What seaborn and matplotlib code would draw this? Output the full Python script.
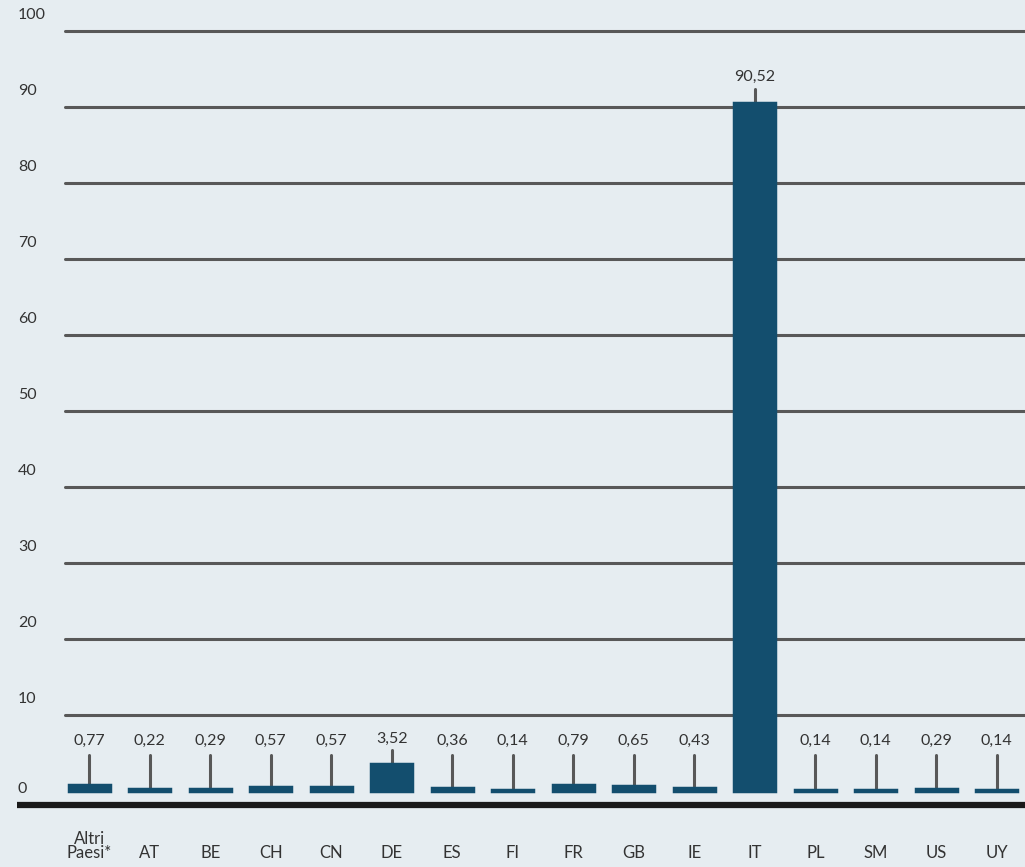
import matplotlib
matplotlib.use("Agg")
import matplotlib.pyplot as plt
import matplotlib.transforms as mtransforms
import seaborn as sns

# data
countries = ["Altri\nPaesi*", "AT", "BE", "CH", "CN", "DE", "ES", "FI", "FR",
             "GB", "IE", "IT", "PL", "SM", "US", "UY"]
shares = [0.77, 0.22, 0.29, 0.57, 0.57, 3.52, 0.36, 0.14, 0.79,
          0.65, 0.43, 90.52, 0.14, 0.14, 0.29, 0.14]
y_ticks = [10, 20, 30, 40, 50, 60, 70, 80, 90, 100]

BG = "#e6edf1"
BAR = "#134e6e"
GRID = "#585858"
TEXT = "#333333"

sns.set_style("white")
plt.rcParams["font.family"] = ["Lato", "DejaVu Sans"]

fig = plt.figure(figsize=(10.25, 8.67), dpi=100, facecolor=BG)
ax = fig.add_axes([59 / 1025, 62 / 867, 968 / 1025, 805 / 867])
ax.set_facecolor(BG)

# gridlines behind the bars
for t in y_ticks:
    ax.axhline(t, xmin=0.006, xmax=1, color=GRID, lw=2.2, zorder=0)

sns.barplot(x=list(range(len(countries))), y=shares, color=BAR, saturation=1,
            width=0.68, linewidth=2.5, edgecolor=BAR, ax=ax, zorder=2)

ax.set_xlim(-0.5, len(countries) - 0.5)
ax.set_ylim(-1.84, 104.1)
for s in ax.spines.values():
    s.set_visible(False)

# thick base line
base_y = -1.84
ax.plot([-0.043, 1], [base_y, base_y], transform=ax.get_yaxis_transform(),
        color="#1a1a1a", lw=4.5, clip_on=False, solid_capstyle="butt", zorder=3)

# y labels sitting above their lines
up = mtransforms.offset_copy(ax.get_yaxis_transform(), fig=fig, x=0, y=16, units="dots")
for t in y_ticks:
    ax.text(-0.0424, t, str(t), transform=up, ha="left", va="center",
            fontsize=11.5, color=TEXT)
ax.text(-0.0424, base_y, "0", transform=up, ha="left", va="center",
        fontsize=11.5, color=TEXT)
ax.set_yticks([])

# x labels, bottom aligned
ax.set_xticks(range(len(countries)))
ax.set_xticklabels(countries, fontsize=12, color=TEXT, linespacing=0.85)
ax.tick_params(axis="x", length=0, pad=40)
for lbl in ax.get_xticklabels():
    lbl.set_verticalalignment("bottom")
ax.set_xlabel("")

# value labels with leader lines
for i, v in enumerate(shares):
    top = max(v + 1.9, 4.7)
    ax.plot([i, i], [v + 0.2, top], color=GRID, lw=2.2, zorder=1)
    ax.text(i, max(v + 3.4, 6.6), f"{v:.2f}".replace(".", ","), ha="center",
            va="center", fontsize=11.5, color=TEXT)

fig.savefig("out.png", dpi=100, facecolor=BG)
